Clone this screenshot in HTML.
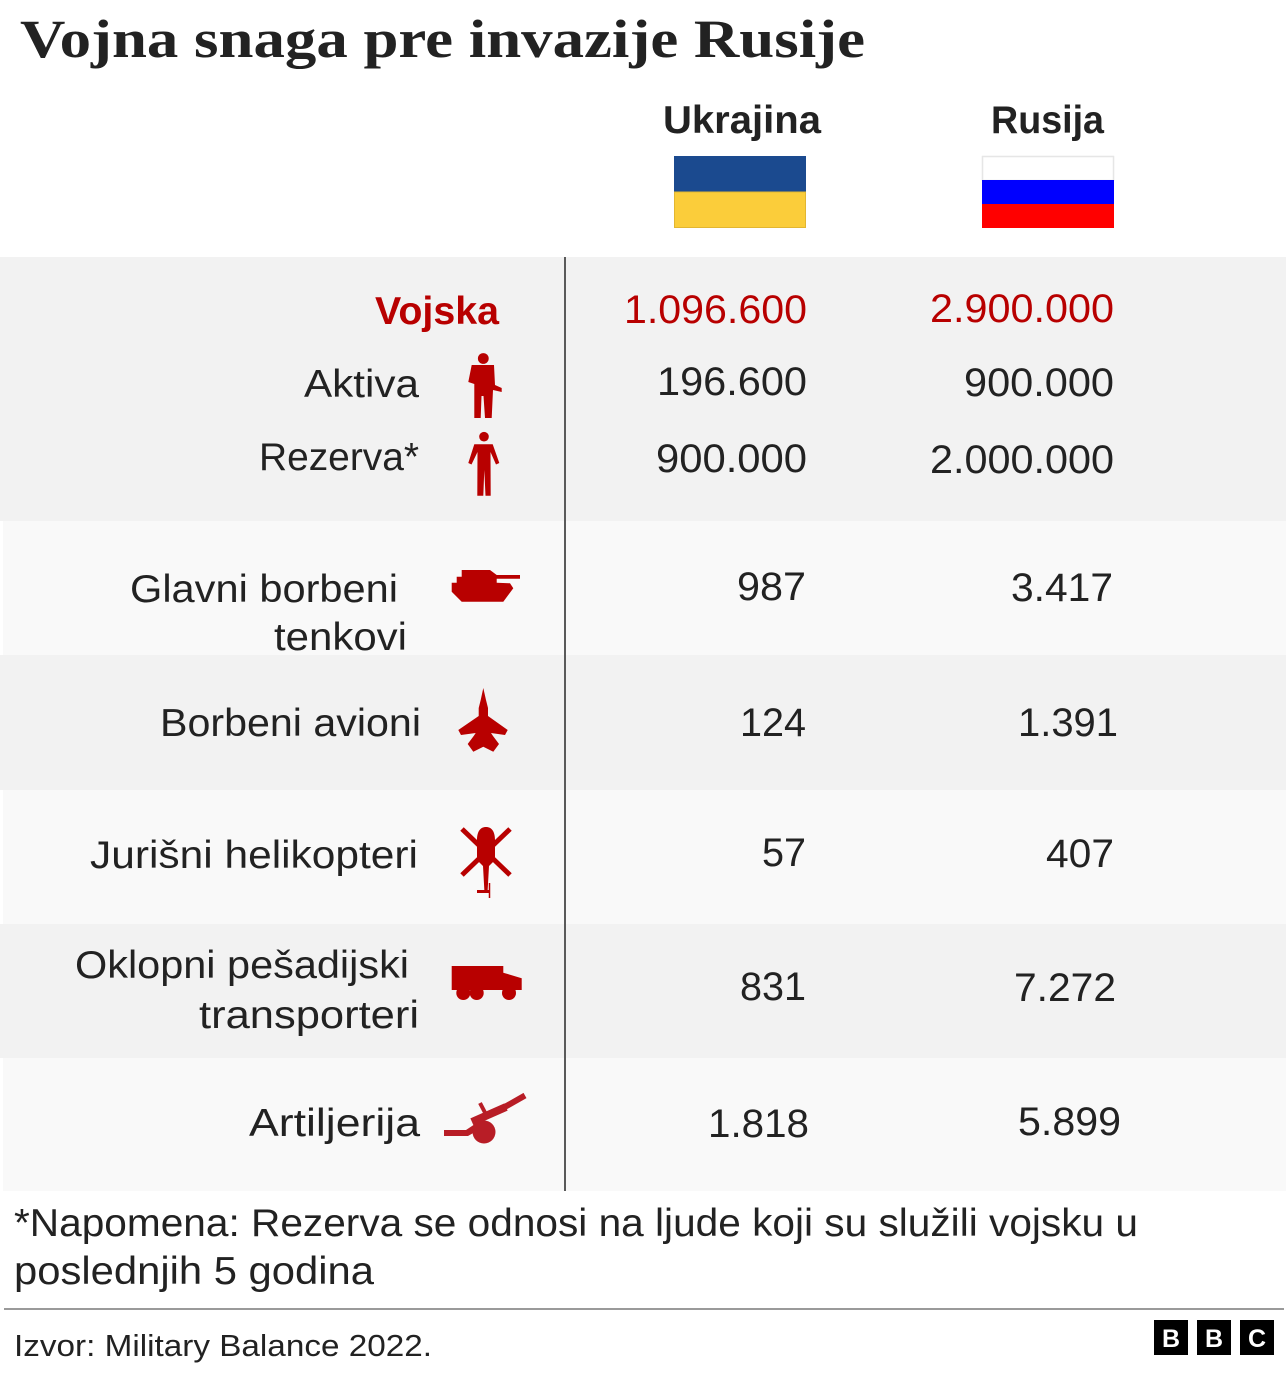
<!DOCTYPE html>
<html>
<head>
<meta charset="utf-8">
<style>
  html,body{margin:0;padding:0;background:#ffffff;}
  svg{display:block;}
  .lbl{font-family:"Liberation Sans",sans-serif;font-size:39px;fill:#222222;}
  .num{font-family:"Liberation Sans",sans-serif;font-size:40px;fill:#222222;}
  .red{fill:#b80000;}
</style>
</head>
<body>
<svg width="1286" height="1382" viewBox="0 0 1286 1382" xmlns="http://www.w3.org/2000/svg">
  <rect x="0" y="0" width="1286" height="1382" fill="#ffffff"/>

  <!-- Title -->
  <text x="20" y="57" font-family="Liberation Serif, serif" font-weight="bold" font-size="54" fill="#222222" textLength="845" lengthAdjust="spacingAndGlyphs">Vojna snaga pre invazije Rusije</text>

  <!-- Headers -->
  <text x="663" y="133" font-family="Liberation Sans, sans-serif" font-weight="bold" font-size="39" fill="#222222" textLength="158" lengthAdjust="spacingAndGlyphs">Ukrajina</text>
  <text x="991" y="133" font-family="Liberation Sans, sans-serif" font-weight="bold" font-size="39" fill="#222222" textLength="113" lengthAdjust="spacingAndGlyphs">Rusija</text>

  <!-- Ukraine flag -->
  <rect x="674" y="156" width="132" height="36" fill="#1b4a8f"/>
  <rect x="674.5" y="192" width="131" height="35.5" fill="#fbcd3a" stroke="#e2b631" stroke-width="1"/>
  <!-- Russia flag -->
  <rect x="982.5" y="156.5" width="131" height="24" fill="#ffffff" stroke="#e6e6e6" stroke-width="1.5"/>
  <rect x="982" y="180" width="132" height="24" fill="#0000ff"/>
  <rect x="982" y="204" width="132" height="24" fill="#ff0000"/>

  <!-- Bands -->
  <rect x="0" y="257" width="1286" height="264" fill="#f2f2f2"/>
  <rect x="3" y="521" width="1283" height="134" fill="#f9f9f9"/>
  <rect x="0" y="655" width="1286" height="135" fill="#f2f2f2"/>
  <rect x="3" y="790" width="1283" height="134" fill="#f9f9f9"/>
  <rect x="0" y="924" width="1286" height="134" fill="#f2f2f2"/>
  <rect x="3" y="1058" width="1283" height="133" fill="#f9f9f9"/>

  <!-- Vertical divider -->
  <rect x="564" y="257" width="2" height="934" fill="#5a5a5a"/>

  <!-- Labels -->
  <text x="375" y="324" font-family="Liberation Sans, sans-serif" font-weight="bold" font-size="39" fill="#b80000" textLength="124" lengthAdjust="spacingAndGlyphs">Vojska</text>
  <text class="lbl" x="304" y="397" textLength="115" lengthAdjust="spacingAndGlyphs">Aktiva</text>
  <text class="lbl" x="259" y="470" textLength="160" lengthAdjust="spacingAndGlyphs">Rezerva*</text>
  <text class="lbl" x="130" y="602" textLength="268" lengthAdjust="spacingAndGlyphs">Glavni borbeni</text>
  <text class="lbl" x="274" y="650" textLength="133" lengthAdjust="spacingAndGlyphs">tenkovi</text>
  <text class="lbl" x="160" y="736" textLength="261" lengthAdjust="spacingAndGlyphs">Borbeni avioni</text>
  <text class="lbl" x="90" y="868" textLength="328" lengthAdjust="spacingAndGlyphs">Jurišni helikopteri</text>
  <text class="lbl" x="75" y="978" textLength="334" lengthAdjust="spacingAndGlyphs">Oklopni pešadijski</text>
  <text class="lbl" x="199" y="1028" textLength="220" lengthAdjust="spacingAndGlyphs">transporteri</text>
  <text class="lbl" x="249" y="1136" textLength="171" lengthAdjust="spacingAndGlyphs">Artiljerija</text>

  <!-- Numbers Ukraine -->
  <text class="num red" x="624" y="323" textLength="183" lengthAdjust="spacingAndGlyphs">1.096.600</text>
  <text class="num" x="657" y="395" textLength="150" lengthAdjust="spacingAndGlyphs">196.600</text>
  <text class="num" x="656" y="472" textLength="151" lengthAdjust="spacingAndGlyphs">900.000</text>
  <text class="num" x="737" y="600" textLength="69" lengthAdjust="spacingAndGlyphs">987</text>
  <text class="num" x="740" y="736" textLength="66" lengthAdjust="spacingAndGlyphs">124</text>
  <text class="num" x="762" y="866" textLength="44" lengthAdjust="spacingAndGlyphs">57</text>
  <text class="num" x="740" y="1000" textLength="66" lengthAdjust="spacingAndGlyphs">831</text>
  <text class="num" x="708" y="1137" textLength="101" lengthAdjust="spacingAndGlyphs">1.818</text>

  <!-- Numbers Russia -->
  <text class="num red" x="930" y="322" textLength="184" lengthAdjust="spacingAndGlyphs">2.900.000</text>
  <text class="num" x="964" y="396" textLength="150" lengthAdjust="spacingAndGlyphs">900.000</text>
  <text class="num" x="930" y="473" textLength="184" lengthAdjust="spacingAndGlyphs">2.000.000</text>
  <text class="num" x="1011" y="601" textLength="102" lengthAdjust="spacingAndGlyphs">3.417</text>
  <text class="num" x="1018" y="736" textLength="100" lengthAdjust="spacingAndGlyphs">1.391</text>
  <text class="num" x="1046" y="867" textLength="68" lengthAdjust="spacingAndGlyphs">407</text>
  <text class="num" x="1014" y="1001" textLength="102" lengthAdjust="spacingAndGlyphs">7.272</text>
  <text class="num" x="1018" y="1135" textLength="103" lengthAdjust="spacingAndGlyphs">5.899</text>

  <!-- Icons -->
  <g fill="#b80000">
    <!-- Soldier (Aktiva) -->
    <circle cx="483.3" cy="358.5" r="5.4"/>
    <path d="M471.7,365 L494,365 L495,385 L501.7,388 L501.7,392 L493,390 L491.7,418 L485,418 L483.5,396 L481.5,396 L480.7,418 L474.3,418 L474.3,384 L468.3,382 Z"/>
    <!-- Person (Rezerva) -->
    <circle cx="484" cy="436.7" r="4.8"/>
    <path d="M474.3,444.3 L492.7,444.3 L499.3,463 L496,464.5 L490.5,452 L490.7,495.7 L485.5,495.7 L484.3,470 L483.3,495.7 L477.3,495.7 L477.5,452 L471.5,464.5 L468.3,463 Z"/>
    <!-- Tank -->
    <path d="M461.7,570 L490,570 L496.7,575 L520,575 L520,578.7 L496.7,578.7 L496.7,582.7 L510,583.3 L513.3,588.3 L503.3,601.7 L461.7,601.7 L451.7,591.7 L451.7,582.7 L456.7,582.7 L456.7,576.7 L461.7,576.7 Z"/>
    <!-- Jet -->
    <path d="M483.3,688 L486,700 L488,708 L488,716 L507.7,730 L505,735 L491,733 L493,736 L499,744 L493.3,751.7 L483.3,746.7 L473.3,751.7 L467.7,744 L473.7,736 L475.7,733 L461,735 L458.3,730 L478.7,716 L478.7,708 L480.7,700 Z"/>
    <!-- Helicopter -->
    <path d="M486,827 C492,827 495,832 495,840 L495,860 L489,866 L487.5,893 L484.5,893 L483,866 L477,860 L477,840 C477,832 480,827 486,827 Z"/>
    <!-- Truck -->
    <path d="M451.7,966 L503.3,966 L503.3,972.7 L521.7,978.3 L521.7,990 L451.7,990 Z"/>
    <circle cx="463.3" cy="993" r="7"/>
    <circle cx="476.7" cy="993" r="7"/>
    <circle cx="509" cy="993" r="7"/>
  </g>
  <g stroke="#b80000" stroke-linecap="butt">
    <line x1="462" y1="829" x2="510" y2="875" stroke-width="5"/>
    <line x1="510" y1="829" x2="462" y2="875" stroke-width="5"/>
    <line x1="477" y1="891.5" x2="490" y2="891.5" stroke-width="3"/>
    <line x1="489.5" y1="883" x2="489.5" y2="898" stroke-width="1.5"/>
  </g>
  <!-- Artillery -->
  <g fill="#b81d26" stroke="none">
    <path d="M444,1130 L466,1130 L478,1122 L482,1128 L468,1136 L444,1136 Z"/>
    <circle cx="484" cy="1132" r="11.5"/>
  </g>
  <g stroke="#b81d26">
    <line x1="472" y1="1122" x2="506" y2="1107" stroke-width="8"/>
    <line x1="503" y1="1108" x2="525" y2="1095.5" stroke-width="6"/>
    <line x1="480" y1="1103" x2="485.5" y2="1113.5" stroke-width="4"/>
  </g>

  <!-- Note -->
  <text class="lbl" x="14" y="1236" font-size="38" textLength="1124" lengthAdjust="spacingAndGlyphs">*Napomena: Rezerva se odnosi na ljude koji su služili vojsku u</text>
  <text class="lbl" x="14" y="1284" font-size="38" textLength="360" lengthAdjust="spacingAndGlyphs">poslednjih 5 godina</text>

  <!-- Separator -->
  <rect x="4" y="1308" width="1280" height="2" fill="#9a9a9a"/>

  <!-- Source -->
  <text x="14" y="1356" font-family="Liberation Sans, sans-serif" font-size="31" fill="#222222" textLength="418" lengthAdjust="spacingAndGlyphs">Izvor: Military Balance 2022.</text>

  <!-- BBC logo -->
  <rect x="1154" y="1320" width="34" height="35" fill="#000000"/>
  <rect x="1197" y="1320" width="34" height="35" fill="#000000"/>
  <rect x="1240" y="1320" width="34" height="35" fill="#000000"/>
  <g font-family="Liberation Sans, sans-serif" font-weight="bold" font-size="25" fill="#ffffff" text-anchor="middle">
    <text x="1171" y="1347">B</text>
    <text x="1214" y="1347">B</text>
    <text x="1257" y="1347">C</text>
  </g>
</svg>
</body>
</html>
